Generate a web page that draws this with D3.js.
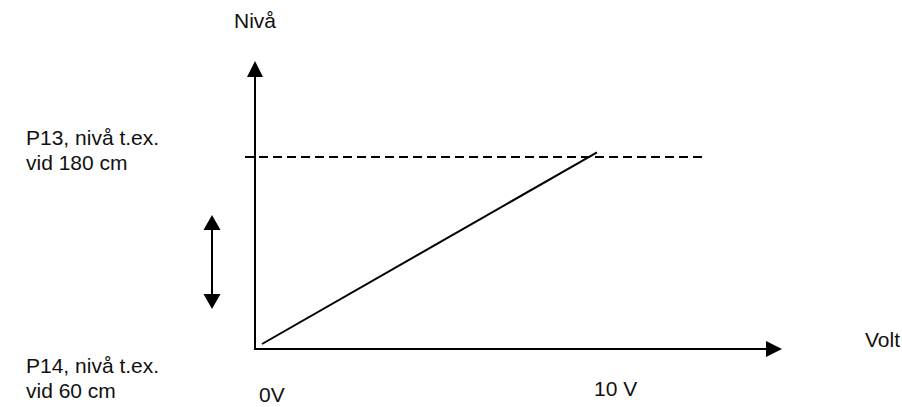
<!DOCTYPE html>
<html lang="sv">
<head>
<meta charset="utf-8">
<title>Nivå / Volt</title>
<style>
  body { margin: 0; background: #fff; }
  text { font-family: "Liberation Sans", Arial, sans-serif; font-size: 21px; fill: #111; }
  .axis { stroke: #000; stroke-width: 2; fill: none; }
  .curve { stroke: #000; stroke-width: 2; fill: none; }
  .limit { stroke: #000; stroke-width: 2; stroke-dasharray: 9 5; fill: none; }
</style>
</head>
<body>
<div id="chart"></div>
<script src="https://cdn.jsdelivr.net/npm/d3@7"></script>
<script>
// data
var volts = [0, 10];              // signal range
var levels = [60, 183];           // nivå in cm at 0V and 10V
var limitLevel = [180];           // P13 upper level
var voltLabels = ["0V", "10 V"];
var leftLabels = [["P13, nivå t.ex.", "vid 180 cm"], ["P14, nivå t.ex.", "vid 60 cm"]];
var axisTitles = ["Volt", "Nivå"];

var width = 902, height = 407;

var svg = d3.select("#chart").append("svg")
    .attr("width", width)
    .attr("height", height);

var x = d3.scaleLinear().domain([0, 10]).range([262, 597]);
var y = d3.scaleLinear().domain([60, 180]).range([344, 157]);

var ox = 255, oy = 349, xEnd = 782, yTop = 61;

// dashed P13 line
svg.selectAll(".limit")
    .data(limitLevel)
  .enter().append("line")
    .attr("class", "limit")
    .attr("x1", 245).attr("x2", 702)
    .attr("y1", function(d) { return y(d); })
    .attr("y2", function(d) { return y(d); });

// axes
svg.append("line").attr("class", "axis")
    .attr("x1", ox).attr("y1", oy + 1).attr("x2", ox).attr("y2", yTop + 12);
svg.append("line").attr("class", "axis")
    .attr("x1", ox - 1).attr("y1", oy).attr("x2", xEnd - 12).attr("y2", oy);

svg.append("path")
    .attr("d", "M" + ox + "," + yTop + "L" + (ox - 8) + "," + (yTop + 16) + "L" + (ox + 8) + "," + (yTop + 16) + "Z");
svg.append("path")
    .attr("d", "M" + xEnd + "," + oy + "L" + (xEnd - 16) + "," + (oy - 8) + "L" + (xEnd - 16) + "," + (oy + 8) + "Z");

// level vs volt line
var pts = volts.map(function(v, i) { return [v, levels[i]]; });
svg.append("path")
    .datum(pts)
    .attr("class", "curve")
    .attr("d", d3.line().x(function(d) { return x(d[0]); }).y(function(d) { return y(d[1]); }));

// double arrow (adjustable)
var ax = 212, aTop = 215, aBot = 309;
svg.append("line").attr("class", "axis")
    .attr("x1", ax).attr("x2", ax).attr("y1", aTop + 10).attr("y2", aBot - 10);
svg.append("path")
    .attr("d", "M" + ax + "," + aTop + "L" + (ax - 8.5) + "," + (aTop + 15) + "L" + (ax + 8.5) + "," + (aTop + 15) + "Z");
svg.append("path")
    .attr("d", "M" + ax + "," + aBot + "L" + (ax - 8.5) + "," + (aBot - 15) + "L" + (ax + 8.5) + "," + (aBot - 15) + "Z");

// texts
svg.append("text").attr("x", 865).attr("y", 347).text(axisTitles[0]);
svg.append("text").attr("x", 234).attr("y", 28).text(axisTitles[1]);

svg.selectAll(".vlab")
    .data(voltLabels)
  .enter().append("text")
    .attr("class", "vlab")
    .attr("x", function(d, i) { return x(volts[i]) - 3; })
    .attr("y", function(d, i) { return i == 0 ? 402 : 396; })
    .text(function(d) { return d; });

var leftY = [145, 373];
leftLabels.forEach(function(lines, i) {
  var t = svg.append("text").attr("x", 26).attr("y", leftY[i]);
  lines.forEach(function(s, j) {
    t.append("tspan").attr("x", 26).attr("dy", j == 0 ? 0 : 25).text(s);
  });
});
</script>
</body>
</html>
